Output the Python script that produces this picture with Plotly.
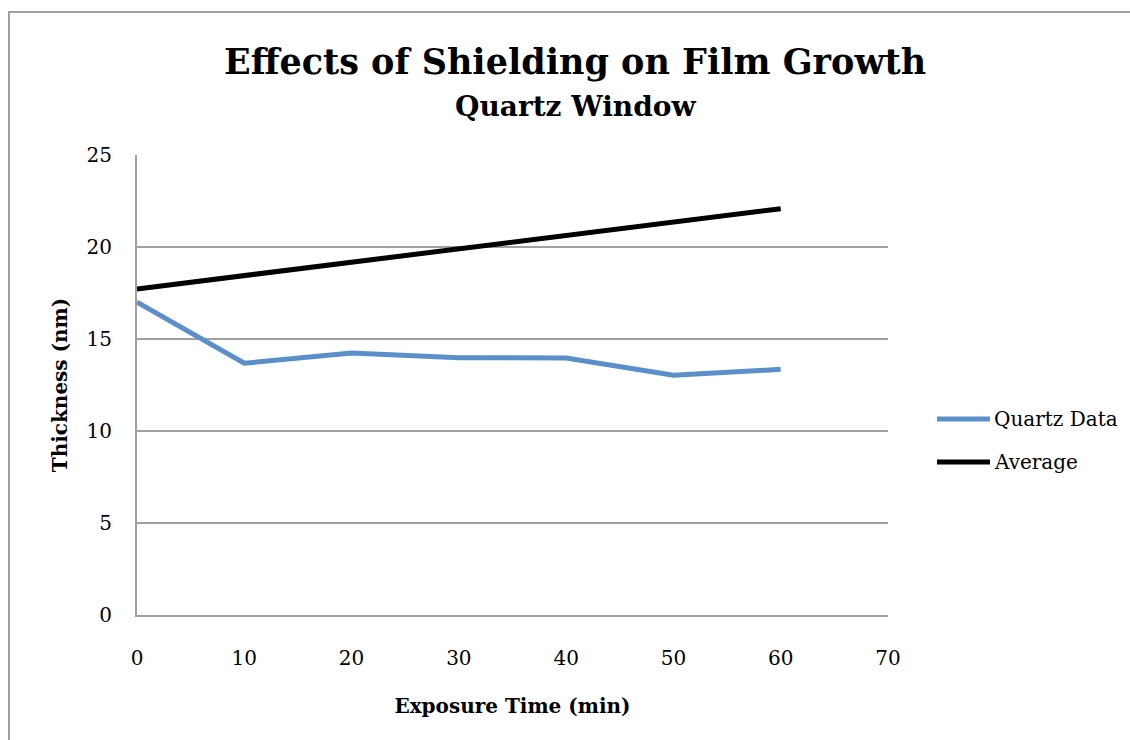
import plotly.graph_objects as go

# Exposure times (min) and measured film thickness (nm)
exposure_min = [0, 10, 20, 30, 40, 50, 60]
quartz_nm = [17.0, 13.68, 14.24, 13.98, 13.97, 13.03, 13.35]
average_nm = [17.72, 18.45, 19.17, 19.90, 20.63, 21.35, 22.08]

series_names = ["Quartz Data", "Average"]
series_colors = ["#5b8fc9", "#000000"]

x_ticks = [0, 10, 20, 30, 40, 50, 60, 70]
y_ticks = [0, 5, 10, 15, 20, 25]

FONT = "DejaVu Serif"
GRID = "#a0a0a0"

W, H = 1130, 740
L, R, T, B = 137, 242, 155, 125
pw, ph = W - L - R, H - T - B


def px(xp):
    return (xp - L) / pw


def py(yp):
    return (H - B - yp) / ph


fig = go.Figure()
for name, ys, color in zip(series_names, [quartz_nm, average_nm], series_colors):
    fig.add_trace(go.Scatter(
        x=exposure_min, y=ys, name=name, mode="lines",
        line=dict(color=color, width=5), showlegend=False))

# Legend drawn beside the plot with long sample lines
legend_shapes = []
legend_labels = []
for i, (name, color) in enumerate(zip(series_names, series_colors)):
    yl = py(419 + 43 * i)
    legend_shapes.append(dict(type="line", xref="paper", yref="paper",
                              x0=px(937), x1=px(990), y0=yl, y1=yl,
                              line=dict(color=color, width=5)))
    legend_labels.append(dict(text=name, x=px(992), y=yl, xref="paper",
                              yref="paper", showarrow=False, xanchor="left",
                              yanchor="middle", font=dict(size=20)))

fig.update_layout(
    width=W, height=H,
    margin=dict(l=L, r=R, t=T, b=B),
    paper_bgcolor="white", plot_bgcolor="white",
    font=dict(family=FONT, color="black", size=20),
    showlegend=False,
    xaxis=dict(range=[0, 70], tickvals=x_ticks, ticks="", showgrid=False,
               showline=True, linecolor=GRID, linewidth=2, zeroline=False,
               ticklabelstandoff=24, tickfont=dict(size=20),
               title=dict(text="<b>Exposure Time (min)</b>", standoff=30,
                          font=dict(size=20))),
    yaxis=dict(range=[0, 25], tickvals=y_ticks, ticks="", showgrid=True,
               gridcolor=GRID, gridwidth=2, showline=True, linecolor=GRID,
               linewidth=2, zeroline=False, ticklabelstandoff=19,
               tickfont=dict(size=20),
               title=dict(text="<b>Thickness (nm)</b>", standoff=14,
                          font=dict(size=20))),
    annotations=[
        dict(text="<b>Effects of Shielding on Film Growth</b>", x=px(575),
             y=py(62), xref="paper", yref="paper", showarrow=False,
             xanchor="center", yanchor="middle", font=dict(size=35)),
        dict(text="<b>Quartz Window</b>", x=px(575), y=py(107),
             xref="paper", yref="paper", showarrow=False,
             xanchor="center", yanchor="middle", font=dict(size=28)),
    ] + legend_labels,
    shapes=[
        dict(type="rect", xref="paper", yref="paper",
             x0=px(9), x1=px(1140), y0=py(12), y1=py(750),
             line=dict(color=GRID, width=2), layer="below"),
    ] + legend_shapes,
)

fig.write_html("out.html")
